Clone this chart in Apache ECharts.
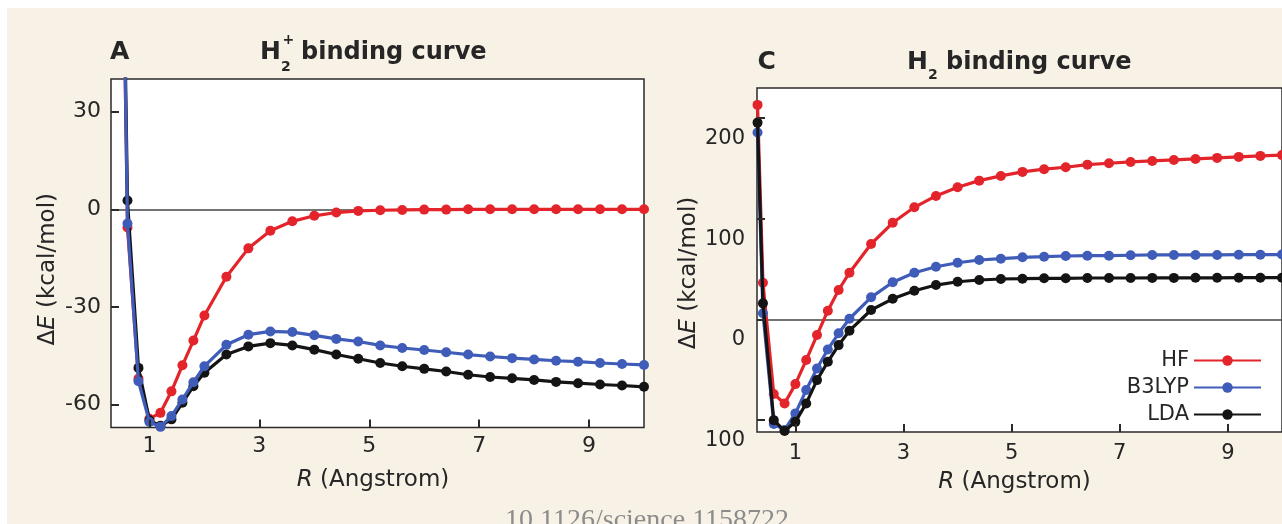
<!DOCTYPE html>
<html>
<head>
<meta charset="utf-8">
<script src="https://cdn.jsdelivr.net/npm/echarts@6/dist/echarts.min.js"></script>
<style>
  html, body { margin: 0; padding: 0; background: #fff; }
  #chart { width: 1282px; height: 524px; }
</style>
</head>
<body>
<div id="chart"></div>
<script>
// ---- data (R in Angstrom, dE in kcal/mol) ----
// panel A: H2+ binding curve
const rA = [0.4, 0.6, 0.8, 1.0, 1.2, 1.4, 1.6, 1.8, 2.0, 2.4, 2.8, 3.2, 3.6, 4.0, 4.4, 4.8, 5.2, 5.6, 6.0, 6.4, 6.8, 7.2, 7.6, 8.0, 8.4, 8.8, 9.2, 9.6, 10.0];
const hfA = [214, -5.6, -52, -64.3, -62.5, -55.9, -47.9, -40.3, -32.6, -20.7, -12.0, -6.6, -3.7, -2.0, -1.0, -0.5, -0.3, -0.2, -0.1, -0.1, 0, 0, 0, 0, 0, 0, 0, 0, 0];
const b3lypA = [216, -4.4, -52.8, -65.3, -66.8, -63.5, -58.4, -53.1, -48.2, -41.6, -38.5, -37.5, -37.7, -38.7, -39.8, -40.6, -41.8, -42.6, -43.2, -43.9, -44.6, -45.2, -45.7, -46.1, -46.5, -46.8, -47.2, -47.5, -47.8];
const ldaA = [218, 2.7, -48.7, -64.8, -66.5, -64.5, -59.4, -54.3, -50.2, -44.6, -42.1, -41.1, -41.8, -43.1, -44.6, -45.9, -47.2, -48.2, -49.0, -49.8, -50.8, -51.5, -51.9, -52.4, -53.0, -53.4, -53.8, -54.1, -54.5];

// panel C: H2 binding curve
const rC = [0.3, 0.4, 0.6, 0.8, 1.0, 1.2, 1.4, 1.6, 1.8, 2.0, 2.4, 2.8, 3.2, 3.6, 4.0, 4.4, 4.8, 5.2, 5.6, 6.0, 6.4, 6.8, 7.2, 7.6, 8.0, 8.4, 8.8, 9.2, 9.6, 10.0];
const hfC = [213.2, 36.4, -74.3, -83.6, -64.4, -40.5, -15.6, 8.6, 29.2, 46.4, 74.9, 96, 111.4, 122.7, 131.3, 137.9, 142.6, 146.6, 149.3, 151.2, 153.8, 155.2, 156.5, 157.5, 158.5, 159.5, 160.5, 161.5, 162.5, 163.3];
const b3lypC = [185.7, 6, -104, -110, -93.5, -70.3, -48.8, -29.9, -13.9, 0.6, 21.9, 36.9, 46.4, 52.3, 56.3, 59, 60.3, 61.7, 62.3, 63, 63.3, 63.3, 63.7, 64, 64, 64, 64, 64.3, 64.3, 64.4];
const ldaC = [195.6, 15.9, -100.2, -111, -101.9, -83.6, -60.4, -42.2, -25.6, -11.3, 9.3, 20.4, 28.5, 34.1, 37.4, 39.1, 40.1, 40.4, 40.8, 40.8, 41.1, 41.1, 41.1, 41.2, 41.2, 41.3, 41.3, 41.4, 41.4, 41.4];

// ticks and labels as printed
const xTicks = [1, 3, 5, 7, 9];
const yTicksA = [-60, -30, 0, 30];
const yTicksC = [-100, 0, 100, 200];
const yLabelsC = ['100', '0', '100', '200']; // minus sign cut off in the figure
const seriesNames = ['HF', 'B3LYP', 'LDA'];

const colors = { HF: '#e3242b', B3LYP: '#3f5cb8', LDA: '#141414' };
const FONT = '"DejaVu Sans", "Liberation Sans", sans-serif';
const TXT = '#262626';

const myChart = echarts.init(document.getElementById('chart'), null, { renderer: 'canvas' });

const mkSeries = (name, xs, ys, gi, z, zeroLine) => {
  const s = {
    name: name,
    type: 'line',
    xAxisIndex: gi,
    yAxisIndex: gi,
    data: xs.map((x, i) => [x, ys[i]]),
    symbol: 'circle',
    symbolSize: 10,
    showSymbol: true,
    clip: true,
    z: z,
    lineStyle: { width: 3.2, color: colors[name] },
    itemStyle: { color: colors[name] },
    emphasis: { disabled: true },
    animation: false
  };
  if (zeroLine) {
    s.markLine = {
      silent: true,
      z: 1,
      symbol: 'none',
      label: { show: false },
      lineStyle: { color: '#444', width: 1.5, type: 'solid' },
      data: [{ yAxis: 0 }]
    };
  }
  return s;
};

const axisNameStyle = (pad) => ({
  fontFamily: FONT,
  fontSize: 23,
  color: TXT,
  padding: pad,
  rich: { i: { fontFamily: FONT, fontSize: 23, fontStyle: 'italic', color: TXT } }
});

// ticks sit inside the box
const tick = (vals) => ({
  show: true, inside: true, length: 8, customValues: vals,
  lineStyle: { color: '#2a2a2a', width: 2 }
});

const noLine = { show: false, onZero: false };

const titleText = (text, x, y, size, align) => ({
  type: 'text', x: x, y: y, silent: true,
  style: {
    text: text, fill: TXT, font: 'bold ' + size + 'px ' + FONT,
    align: align || 'left', verticalAlign: 'middle'
  }
});

const option = {
  backgroundColor: '#ffffff',
  animation: false,
  grid: [
    { left: 111, top: 79, width: 533, height: 348.5, show: true, backgroundColor: '#fff', borderColor: '#2a2a2a', borderWidth: 1.5 },
    { left: 757, top: 88, width: 535, height: 344, show: true, backgroundColor: '#fff', borderColor: '#2a2a2a', borderWidth: 1.5 }
  ],
  xAxis: [
    {
      type: 'value', gridIndex: 0, min: 0.3, max: 10, z: 6,
      axisLine: noLine, splitLine: { show: false },
      axisTick: tick(xTicks),
      axisLabel: { customValues: xTicks, margin: 7.5, fontSize: 22, fontFamily: FONT, color: TXT },
      name: '{i|R} (Angstrom)', nameLocation: 'middle', nameGap: 41,
      nameTextStyle: axisNameStyle([0, 9, 0, 0])
    },
    {
      type: 'value', gridIndex: 1, min: 0.29, max: 10, z: 6,
      axisLine: noLine, splitLine: { show: false },
      axisTick: tick(xTicks),
      axisLabel: { customValues: xTicks, margin: 11.5, fontSize: 21, fontFamily: FONT, color: TXT },
      name: '{i|R} (Angstrom)', nameLocation: 'middle', nameGap: 39,
      nameTextStyle: axisNameStyle([0, 10, 0, 0])
    }
  ],
  yAxis: [
    {
      type: 'value', gridIndex: 0, min: -67, max: 40, z: 6,
      axisLine: noLine, splitLine: { show: false },
      axisTick: tick(yTicksA),
      axisLabel: { customValues: yTicksA, margin: 10, fontSize: 22, fontFamily: FONT, color: TXT },
      name: 'Δ{i|E} (kcal/mol)', nameLocation: 'middle', nameGap: 51,
      nameTextStyle: axisNameStyle([0, 32, 0, 0])
    },
    {
      type: 'value', gridIndex: 1, min: -112, max: 230, z: 6,
      axisLine: noLine, splitLine: { show: false },
      axisTick: tick(yTicksC),
      // labels in the figure sit ~20px below their ticks
      axisLabel: {
        customValues: yTicksC, margin: 12, fontSize: 21, fontFamily: FONT, color: TXT,
        verticalAlign: 'top', lineHeight: 41,
        formatter: (v) => yLabelsC[yTicksC.indexOf(v)]
      },
      name: 'Δ{i|E} (kcal/mol)', nameLocation: 'middle', nameGap: 52,
      nameTextStyle: axisNameStyle([0, 26, 0, 0])
    }
  ],
  legend: {
    data: seriesNames,
    orient: 'vertical',
    align: 'right',
    right: 20,
    top: 350,
    padding: 0,
    itemGap: 6,
    itemWidth: 67,
    itemHeight: 13,
    selectedMode: false,
    textStyle: { fontFamily: FONT, fontSize: 21, color: TXT }
  },
  graphic: [
    { type: 'rect', z: -1, silent: true, shape: { x: 7, y: 8, width: 1275, height: 516 }, style: { fill: '#f7f1e6' } },
    titleText('A', 110, 52.5, 25),
    titleText('H', 260, 52.5, 25),
    titleText('2', 281, 67, 14),
    titleText('+', 282.5, 40, 14),
    titleText('binding curve', 301, 52.5, 24),
    titleText('C', 757.5, 62.5, 25),
    titleText('H', 907, 62.5, 25),
    titleText('2', 928, 75, 14),
    titleText('binding curve', 946, 62.5, 24),
    {
      type: 'text', x: 505, y: 507, silent: true,
      style: { text: '10.1126/science.1158722', fill: '#8c8c8c', font: '28px "Liberation Serif", serif', align: 'left', verticalAlign: 'top' }
    }
  ],
  series: [
    mkSeries('HF', rA, hfA, 0, 2, true),
    mkSeries('LDA', rA, ldaA, 0, 3),
    mkSeries('B3LYP', rA, b3lypA, 0, 4),
    mkSeries('HF', rC, hfC, 1, 2, true),
    mkSeries('B3LYP', rC, b3lypC, 1, 3),
    mkSeries('LDA', rC, ldaC, 1, 4)
  ]
};

myChart.setOption(option);
</script>
</body>
</html>
